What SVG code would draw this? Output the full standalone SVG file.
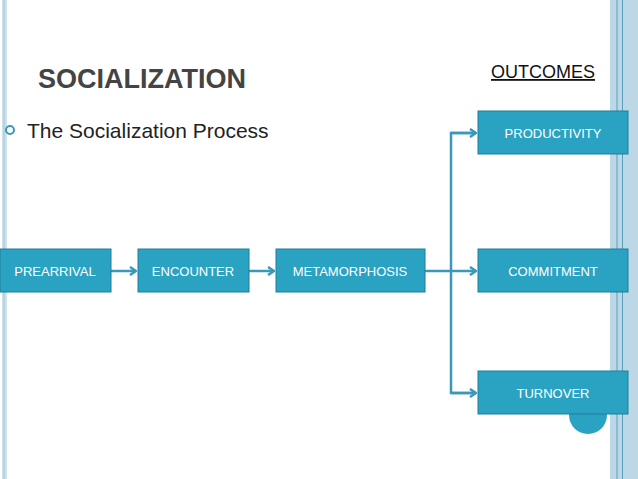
<svg xmlns="http://www.w3.org/2000/svg" width="638" height="479" viewBox="0 0 638 479">
<style>
.box{fill:#2aa2c1;stroke:#1f7f99;stroke-width:1}
.bt{font-family:"Liberation Sans",Arial,sans-serif;font-size:13px;fill:#ffffff;text-anchor:middle}
.c{fill:none;stroke:#3a99b8;stroke-width:2.5}
</style>
<defs><marker id="a" markerWidth="8" markerHeight="10" refX="7" refY="5" orient="auto" markerUnits="userSpaceOnUse"><path d="M1,1 L7,5 L1,9" fill="none" stroke="#3a99b8" stroke-width="2.5"/></marker></defs>
<rect width="638" height="479" fill="#fff"/>
<rect x="2" y="0" width="5" height="479" fill="#cfe2ec"/>
<line x1="4" y1="0" x2="4" y2="479" stroke="#9cc4d8" stroke-width="1"/>
<rect x="610" y="0" width="28" height="479" fill="#bcd8e6"/>
<line x1="617" y1="0" x2="617" y2="479" stroke="#5a9fbf" stroke-width="1"/>
<line x1="622.5" y1="0" x2="622.5" y2="479" stroke="#5a9fbf" stroke-width="1"/>
<text x="38" y="88" font-family="Liberation Sans,Arial,sans-serif" font-size="27" font-weight="bold" fill="#444">SOCIALIZATION</text>
<circle cx="10" cy="130" r="4" fill="none" stroke="#3a99b8" stroke-width="2"/>
<text x="27" y="138" font-family="Liberation Sans,Arial,sans-serif" font-size="21" fill="#222">The Socialization Process</text>
<text x="491" y="78" font-family="Liberation Sans,Arial,sans-serif" font-size="18" fill="#111" text-decoration="underline">OUTCOMES</text>
<circle cx="588" cy="415" r="19" fill="#2aa2c1"/>
<g id="connectors">
<line class="c" x1="111" y1="271" x2="136" y2="271" marker-end="url(#a)"/>
<line class="c" x1="249" y1="271" x2="274" y2="271" marker-end="url(#a)"/>
<line class="c" x1="425" y1="271" x2="476" y2="271" marker-end="url(#a)"/>
<path class="c" d="M476,133 H451 V393 H476"/>
<line class="c" x1="451" y1="133" x2="476" y2="133" marker-end="url(#a)"/>
<line class="c" x1="451" y1="393" x2="476" y2="393" marker-end="url(#a)"/>
</g>
<g id="prearrival"><rect class="box" x="0" y="249" width="111" height="43"/><text class="bt" x="55" y="276">PREARRIVAL</text></g>
<g id="encounter"><rect class="box" x="138" y="249" width="111" height="43"/><text class="bt" x="193" y="276">ENCOUNTER</text></g>
<g id="metamorphosis"><rect class="box" x="276" y="249" width="149" height="43"/><text class="bt" x="350" y="276">METAMORPHOSIS</text></g>
<g id="productivity"><rect class="box" x="478" y="111" width="150" height="43"/><text class="bt" x="553" y="138" font-size="12">PRODUCTIVITY</text></g>
<g id="commitment"><rect class="box" x="478" y="249" width="150" height="43"/><text class="bt" x="553" y="276">COMMITMENT</text></g>
<g id="turnover"><rect class="box" x="478" y="371" width="150" height="43"/><text class="bt" x="553" y="398">TURNOVER</text></g>
</svg>
